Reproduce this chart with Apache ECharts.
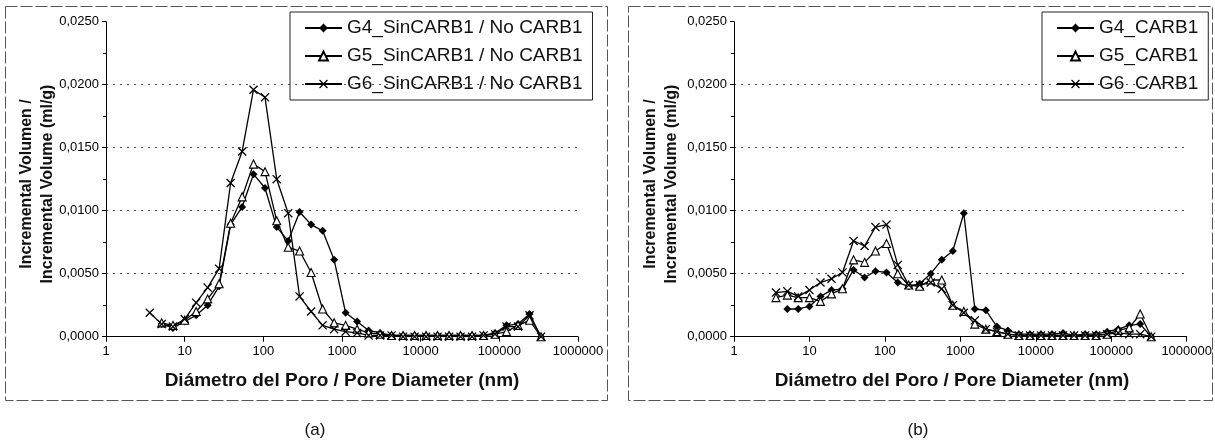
<!DOCTYPE html>
<html>
<head>
<meta charset="utf-8">
<script src="https://cdn.jsdelivr.net/npm/echarts@6/dist/echarts.min.js"></script>
<style>
  html, body { margin: 0; padding: 0; background: #fff; }
  #chart { width: 1215px; height: 445px; }
</style>
</head>
<body>
<div id="chart"></div>
<script>
// pore diameter (nm), shared by every curve
const poreDiameter = [3.6, 5.1, 7.1, 10, 14, 19.6, 27.4, 38.4, 53.8, 75, 105, 148, 207, 289, 405, 567, 794, 1111, 1556, 2178, 3049, 4269, 5976, 8367, 11714, 16400, 22960, 32140, 45000, 63000, 88200, 123500, 172900, 242000, 338800];

// (a) sin CARB1
const g4Sin = [null, 0.0010, 0.0007, 0.0012, 0.0017, 0.0025, 0.0040, 0.0089, 0.0103, 0.0129, 0.0118, 0.0087, 0.0076, 0.0099, 0.0089, 0.0084, 0.0061, 0.0019, 0.0012, 0.0005, 0.0003, 0.0001, 0.0001, 0.0001, 0.0001, 0.0001, 0.0001, 0.0001, 0.0001, 0.0001, 0.0003, 0.0009, 0.0010, 0.0018, 0.0000];
const g5Sin = [null, 0.0011, 0.0009, 0.0013, 0.0020, 0.0030, 0.0042, 0.0090, 0.0111, 0.0137, 0.0131, 0.0092, 0.0071, 0.0068, 0.0051, 0.0022, 0.0011, 0.0009, 0.0006, 0.0003, 0.0002, 0.0001, 0.0001, 0.0001, 0.0001, 0.0001, 0.0001, 0.0001, 0.0001, 0.0001, 0.0002, 0.0004, 0.0009, 0.0013, 0.0000];
const g6Sin = [0.0019, 0.0010, 0.0008, 0.0014, 0.0027, 0.0039, 0.0054, 0.0122, 0.0147, 0.0196, 0.0190, 0.0125, 0.0098, 0.0032, 0.0020, 0.0009, 0.0006, 0.0004, 0.0003, 0.0001, 0.0001, 0.0001, 0.0000, 0.0000, 0.0000, 0.0000, 0.0000, 0.0000, 0.0000, 0.0001, 0.0002, 0.0008, 0.0008, 0.0017, 0.0000];

// (b) CARB1
const g4Carb = [null, 0.0022, 0.0022, 0.0024, 0.0032, 0.0037, 0.0038, 0.0053, 0.0047, 0.0052, 0.0051, 0.0043, 0.0040, 0.0042, 0.0050, 0.0061, 0.0068, 0.0098, 0.0022, 0.0021, 0.0008, 0.0005, 0.0002, 0.0002, 0.0002, 0.0002, 0.0003, 0.0001, 0.0002, 0.0002, 0.0004, 0.0006, 0.0009, 0.0010, 0.0000];
const g5Carb = [0.0031, 0.0033, 0.0031, 0.0031, 0.0028, 0.0034, 0.0038, 0.0061, 0.0059, 0.0068, 0.0074, 0.0050, 0.0041, 0.0040, 0.0045, 0.0045, 0.0025, 0.0020, 0.0010, 0.0006, 0.0004, 0.0002, 0.0001, 0.0001, 0.0001, 0.0001, 0.0001, 0.0001, 0.0001, 0.0001, 0.0002, 0.0005, 0.0007, 0.0018, 0.0000];
const g6Carb = [0.0035, 0.0036, 0.0032, 0.0037, 0.0043, 0.0046, 0.0051, 0.0076, 0.0072, 0.0087, 0.0089, 0.0057, 0.0041, 0.0041, 0.0043, 0.0038, 0.0025, 0.0019, 0.0013, 0.0006, 0.0004, 0.0002, 0.0001, 0.0001, 0.0001, 0.0001, 0.0001, 0.0001, 0.0001, 0.0001, 0.0002, 0.0003, 0.0002, 0.0002, 0.0000];

const namesA = ["G4_SinCARB1 / No CARB1", "G5_SinCARB1 / No CARB1", "G6_SinCARB1 / No CARB1"];
const namesB = ["G4_CARB1", "G5_CARB1", "G6_CARB1"];

const FONT = "'Liberation Sans', Arial, sans-serif";
const CROSS = "path://M1,0L5,4L9,0L10,1L6,5L10,9L9,10L5,6L1,10L0,9L4,5L0,1Z";

function toPairs(values) {
  return poreDiameter
    .map((d, i) => [d, values[i]])
    .filter((p) => p[1] !== null);
}

function makeSeries(name, values, marker, axisIndex) {
  let itemStyle = { color: "#000" };
  let symbolSize = 8;
  if (marker === "triangle") {
    itemStyle = { color: "#fff", borderColor: "#000", borderWidth: 1.1 };
    symbolSize = 8;
  }
  if (marker === CROSS) symbolSize = 9;
  return {
    name: name,
    type: "line",
    xAxisIndex: axisIndex,
    yAxisIndex: axisIndex,
    data: toPairs(values),
    symbol: marker,
    symbolSize: symbolSize,
    showAllSymbol: true,
    itemStyle: itemStyle,
    lineStyle: { color: "#000", width: 1.3 },
    emphasis: { disabled: true },
  };
}

function xAxisFor(gridIndex) {
  return {
    gridIndex: gridIndex,
    type: "log",
    logBase: 10,
    min: 1,
    max: 1000000,
    splitNumber: 6,
    axisLine: { lineStyle: { color: "#000", width: 1 } },
    axisTick: { length: 5, lineStyle: { color: "#000" } },
    axisLabel: {
      color: "#000",
      fontFamily: FONT,
      fontSize: 13,
      margin: 8,
      formatter: function (value) {
        return String(Math.round(value));
      },
    },
    splitLine: { show: false },
  };
}

function yAxisFor(gridIndex) {
  return {
    gridIndex: gridIndex,
    type: "value",
    min: 0,
    max: 0.025,
    interval: 0.005,
    axisLine: { show: true, lineStyle: { color: "#000", width: 1 } },
    axisTick: { show: true, length: 4, lineStyle: { color: "#000" } },
    minorTick: { show: true, splitNumber: 2, length: 3, lineStyle: { color: "#000" } },
    axisLabel: {
      color: "#000",
      fontFamily: FONT,
      fontSize: 13,
      margin: 7,
      formatter: function (value) {
        return value.toFixed(4).replace(".", ",");
      },
    },
    splitLine: {
      show: true,
      showMinLine: false,
      showMaxLine: false,
      lineStyle: { color: "#555", type: [2, 5], width: 1 },
    },
  };
}

function legendFor(names, left) {
  return {
    data: names,
    orient: "vertical",
    left: left,
    top: 12,
    itemWidth: 37,
    itemHeight: 11,
    itemGap: 8,
    padding: [6, 10, 6, 14],
    borderColor: "#222",
    borderWidth: 1,
    textStyle: { color: "#111", fontFamily: FONT, fontSize: 19, lineHeight: 20 },
  };
}

function yTitle(x) {
  return {
    type: "text",
    x: x,
    y: 184,
    rotation: Math.PI / 2,
    style: {
      text: "Incremental Volumen /\nIncremental Volume (ml/g)",
      fill: "#111",
      fontFamily: FONT,
      fontWeight: "bold",
      fontSize: 16,
      lineHeight: 21,
      align: "center",
      verticalAlign: "middle",
    },
  };
}

function plainText(text, x, y, size, weight) {
  return {
    type: "text",
    x: x,
    y: y,
    style: {
      text: text,
      fill: "#111",
      fontFamily: FONT,
      fontWeight: weight,
      fontSize: size,
      align: "center",
      verticalAlign: "middle",
    },
  };
}

function frame(x, y, w, h) {
  return {
    type: "rect",
    shape: { x: x, y: y, width: w, height: h },
    style: { fill: null, stroke: "#555", lineWidth: 1, lineDash: [12, 3] },
    silent: true,
  };
}

let myChart = echarts.init(document.getElementById("chart"));
let option = {
  animation: false,
  backgroundColor: "#fff",
  grid: [
    { left: 106, top: 21.7, width: 472, height: 315 },
    { left: 734, top: 21.7, width: 454, height: 315 },
  ],
  xAxis: [xAxisFor(0), xAxisFor(1)],
  yAxis: [yAxisFor(0), yAxisFor(1)],
  legend: [legendFor(namesA, 290), legendFor(namesB, 1042)],
  graphic: [
    frame(5.5, 6.5, 602, 394),
    frame(628.5, 6.5, 584, 394),
    yTitle(37),
    yTitle(661),
    plainText("Diámetro del Poro / Pore Diameter (nm)", 342, 381, 19, "bold"),
    plainText("Diámetro del Poro / Pore Diameter (nm)", 952, 381, 19, "bold"),
    plainText("(a)", 315, 430, 17, "normal"),
    plainText("(b)", 918, 430, 17, "normal"),
  ],
  series: [
    makeSeries(namesA[0], g4Sin, "diamond", 0),
    makeSeries(namesA[1], g5Sin, "triangle", 0),
    makeSeries(namesA[2], g6Sin, CROSS, 0),
    makeSeries(namesB[0], g4Carb, "diamond", 1),
    makeSeries(namesB[1], g5Carb, "triangle", 1),
    makeSeries(namesB[2], g6Carb, CROSS, 1),
  ],
};

option && myChart.setOption(option);
</script>
</body>
</html>
